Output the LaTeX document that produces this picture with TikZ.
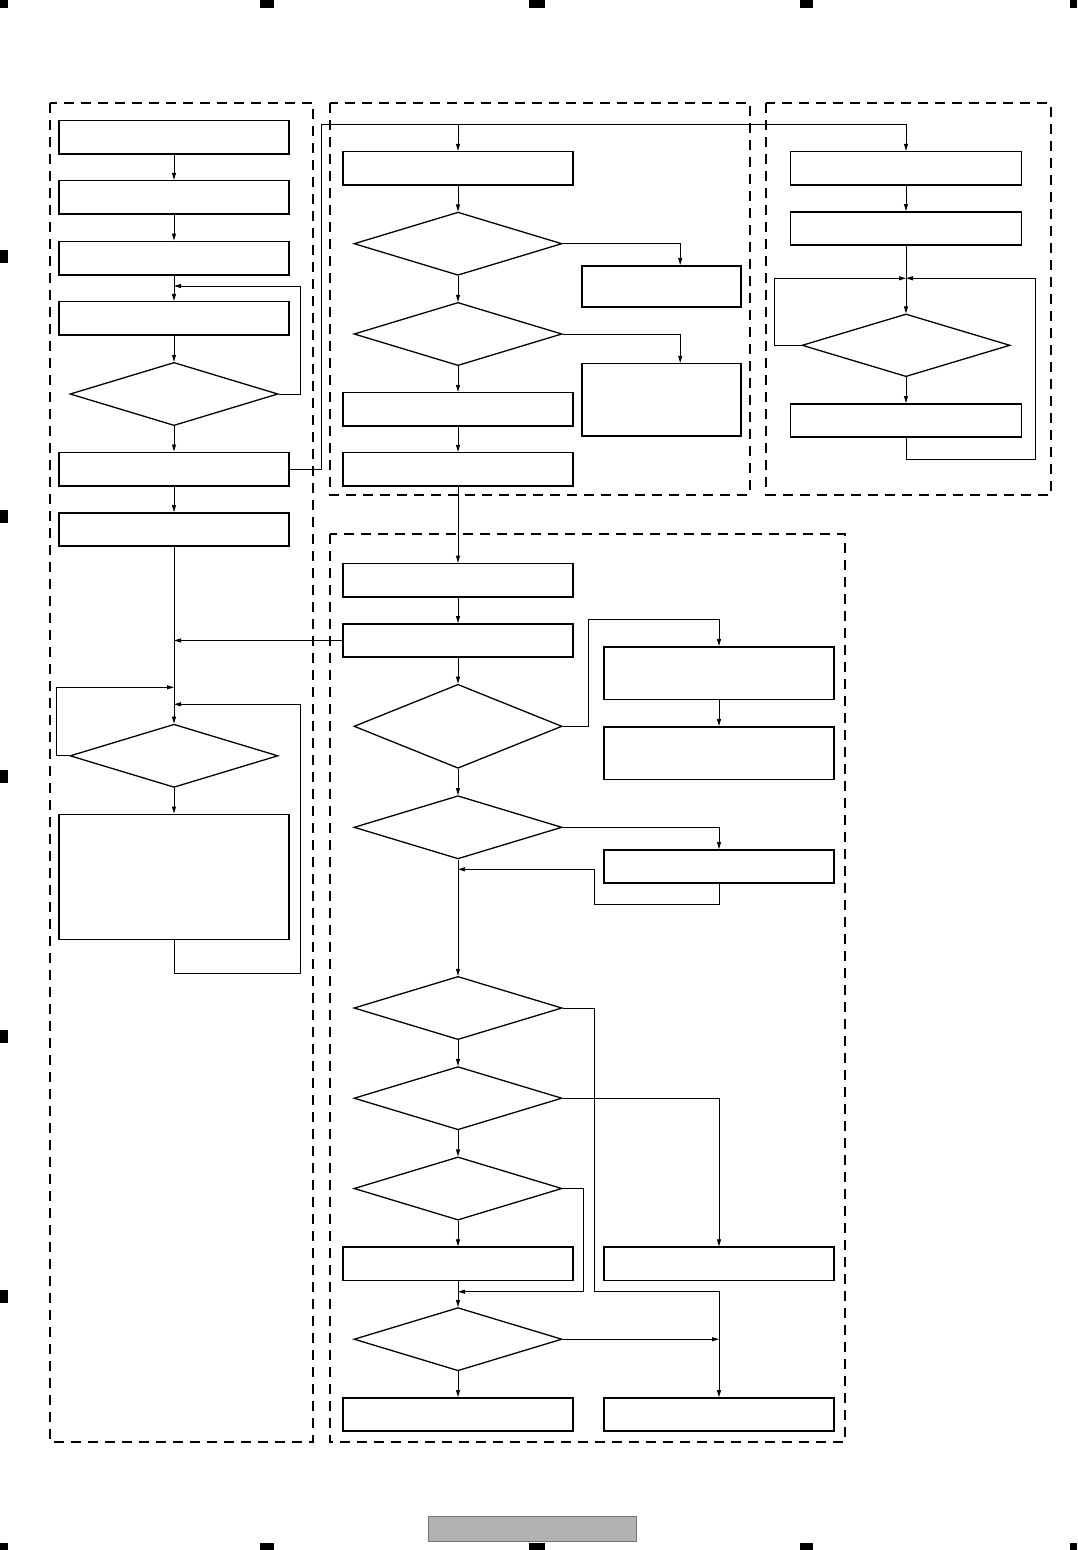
\documentclass[tikz,border=0pt]{standalone}
\usepackage{tikz}
\usetikzlibrary{arrows.meta,positioning,shapes.geometric}

\begin{document}
\begin{tikzpicture}[
    x=1pt, y=-1pt,
    block/.style={rectangle, draw, line width=1.6pt, minimum width=230pt,
                  minimum height=33.4pt, inner sep=0pt},
    tallblock/.style={block, minimum height=52.6pt},
    decision/.style={diamond, draw, line width=1.3pt, minimum width=208pt,
                     minimum height=63.2pt, inner sep=0pt},
    arrow/.style={->, >={Stealth[length=7pt,width=4pt,inset=0pt]}, line width=0.8pt},
    line/.style={line width=0.8pt},
    groupbox/.style={line width=2pt, dash pattern=on 10pt off 7pt}
]
\useasboundingbox (0,0) rectangle (1077,1550);

% page marks
\foreach \xa/\xb in {0/7.5, 260/274, 529/545, 800/813, 1070/1077} {
  \fill (\xa,0) rectangle (\xb,7.5);
  \fill (\xa,1542.5) rectangle (\xb,1550);
}
\foreach \ya in {250,510,770,1030,1290}
  \fill (0,\ya) rectangle (7.5,\ya+12.5);
\filldraw[fill=black!30, draw=black!55, line width=0.8pt] (428,1516) rectangle (636,1541);

% dashed groups
\draw[groupbox] (49.5,103) rectangle (312.7,1441.5);
\draw[groupbox] (329.7,103) rectangle (749.7,494.5);
\draw[groupbox] (766,103) rectangle (1050.7,494.5);
\draw[groupbox] (329.7,533.7) rectangle (845,1441.7);

% left column
\node[block] (L1) at (174,137.3) {};
\node[block] (L2) at (174,197.3) {};
\node[block] (L3) at (174,258) {};
\node[block] (L4) at (174,318.3) {};
\node[decision] (L5) at (174,394) {};
\node[block] (L6) at (174,469) {};
\node[block] (L7) at (174,529.5) {};
\node[decision] (L8) at (174,755.8) {};
\node[block, minimum height=125pt] (L9) at (174,876.8) {};

% middle column, top
\node[block] (M1) at (458,168.3) {};
\node[decision] (M2) at (458,243.7) {};
\node[decision] (M3) at (458,334) {};
\node[block] (M4) at (458,409.3) {};
\node[block] (M5) at (458,469.3) {};
\node[block, minimum width=159pt, minimum height=41pt] (MA) at (661.5,286.2) {};
\node[block, minimum width=159pt, minimum height=72.3pt] (MB) at (661.5,399.8) {};

% right column
\node[block, minimum width=231pt] (R1) at (906,168.3) {};
\node[block, minimum width=231pt] (R2) at (906,228.5) {};
\node[decision, minimum height=62.7pt] (R3) at (906,345.3) {};
\node[block, minimum width=231pt] (R4) at (906,420.5) {};

% middle column, bottom
\node[block] (N1) at (458,580.2) {};
\node[block] (N2) at (458,640.5) {};
\node[decision, minimum height=84pt] (N3) at (458,726.3) {};
\node[tallblock] (P1) at (719,673) {};
\node[tallblock] (P2) at (719,753) {};
\node[decision] (N4) at (458,827.3) {};
\node[block] (P3) at (719,866.5) {};
\node[decision] (N5) at (458,1008) {};
\node[decision] (N6) at (458,1098.2) {};
\node[decision] (N7) at (458,1188.5) {};
\node[block] (N8) at (458,1263.8) {};
\node[block] (Q1) at (719,1263.8) {};
\node[decision] (N9) at (458,1339.2) {};
\node[block] (N10) at (458,1414.5) {};
\node[block] (Q2) at (719,1414.5) {};

% junctions
\coordinate (jL4) at (174,286);
\coordinate (bus) at (321,124.3);
\coordinate (jL7) at (174,640.5);
\coordinate (jL8a) at (174,687.3);
\coordinate (jL8b) at (174,704.3);
\coordinate (jR) at (906,278.3);
\coordinate (jN4) at (458,869.3);
\coordinate (jN8) at (458,1291.7);
\coordinate (jQ2) at (719,1339.2);

% left flow
\draw[arrow] (L1) -- (L2);
\draw[arrow] (L2) -- (L3);
\draw[arrow] (L3) -- (L4);
\draw[arrow] (L4) -- (L5);
\draw[arrow] (L5.east) -| (300.3,286) -- (jL4);
\draw[arrow] (L5) -- (L6);
\draw[arrow] (L6) -- (L7);
\draw[arrow] (L7) -- (L8);
\draw[arrow] (N2.west) -- (jL7);
\draw[arrow] (L8.west) -| (56.6,687.3) -- (jL8a);
\draw[arrow] (L8) -- (L9);
\draw[arrow] (L9.south) |- (300.3,973) |- (jL8b);

% bus to the top groups
\draw[line] (L6.east) -| (bus);
\draw[arrow] (bus) -| (R1.north);
\draw[arrow] (bus -| M1.north) -- (M1.north);

% middle top flow
\draw[arrow] (M1) -- (M2);
\draw[arrow] (M2) -- (M3);
\draw[arrow] (M3) -- (M4);
\draw[arrow] (M4) -- (M5);
\draw[arrow] (M5) -- (N1);
\draw[arrow] (M2.east) -| ([xshift=18.7pt]MA.north);
\draw[arrow] (M3.east) -| ([xshift=18.7pt]MB.north);

% right flow
\draw[arrow] (R1) -- (R2);
\draw[arrow] (R2) -- (R3);
\draw[arrow] (R3) -- (R4);
\draw[arrow] (R3.west) -| (774.5,278.3) -- (jR);
\draw[arrow] (R4.south) |- (1035,459.3) |- (jR);

% middle bottom flow
\draw[arrow] (N1) -- (N2);
\draw[arrow] (N2) -- (N3);
\draw[arrow] (N3.east) -| (588.3,619.3) -| (P1.north);
\draw[arrow] (P1) -- (P2);
\draw[arrow] (N3) -- (N4);
\draw[arrow] (N4.east) -| (P3.north);
\draw[arrow] (P3.south) |- (594.5,904) |- (jN4);
\draw[arrow] (N4) -- (N5);
\draw[arrow] (N5.east) -| (594.1,1291.7) -| (Q2.north);
\draw[arrow] (N5) -- (N6);
\draw[arrow] (N6.east) -| (Q1.north);
\draw[arrow] (N6) -- (N7);
\draw[arrow] (N7.east) -| (583.4,1291.7) -- (jN8);
\draw[arrow] (N7) -- (N8);
\draw[arrow] (N8) -- (N9);
\draw[arrow] (N9.east) -- (jQ2);
\draw[arrow] (N9) -- (N10);

\end{tikzpicture}
\end{document}
